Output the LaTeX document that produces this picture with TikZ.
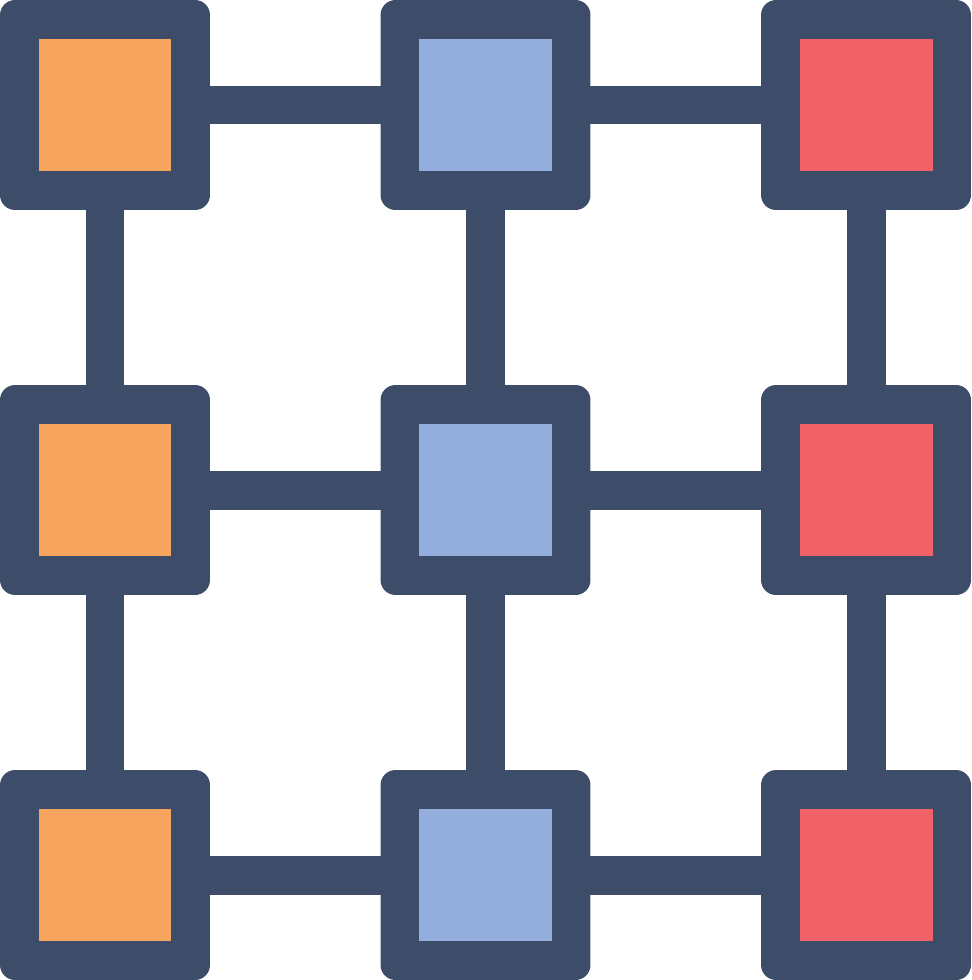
\documentclass[tikz,border=0pt]{standalone}
\usetikzlibrary{backgrounds}
\definecolor{gridnavy}{HTML}{3D4C68}
\definecolor{gridorange}{HTML}{F7A55E}
\definecolor{gridblue}{HTML}{93AEDC}
\definecolor{gridred}{HTML}{F06268}
\tikzset{
  cell/.style={rectangle, fill=gridnavy, rounded corners=0.3cm, minimum size=4.2cm, inner sep=0pt},
  core/.style={rectangle, minimum size=2.66cm, inner sep=0pt},
  bar/.style={line width=0.78cm, draw=gridnavy, line cap=butt}
}
\begin{document}
\begin{tikzpicture}[x=0.02cm,y=-0.02cm]
\useasboundingbox (0,0) rectangle (971,980);

% Marking cells of row 1
\node [cell] (c11) at (105,105) {};
\node [core, fill=gridorange] (c11in) at (c11) {};
\node [cell] (c12) at (485.5,105) {};
\node [core, fill=gridblue] (c12in) at (c12) {};
\node [cell] (c13) at (866,105) {};
\node [core, fill=gridred] (c13in) at (c13) {};

% Marking cells of row 2
\node [cell] (c21) at (105,490) {};
\node [core, fill=gridorange] (c21in) at (c21) {};
\node [cell] (c22) at (485.5,490) {};
\node [core, fill=gridblue] (c22in) at (c22) {};
\node [cell] (c23) at (866,490) {};
\node [core, fill=gridred] (c23in) at (c23) {};

% Marking cells of row 3
\node [cell] (c31) at (105,875) {};
\node [core, fill=gridorange] (c31in) at (c31) {};
\node [cell] (c32) at (485.5,875) {};
\node [core, fill=gridblue] (c32in) at (c32) {};
\node [cell] (c33) at (866,875) {};
\node [core, fill=gridred] (c33in) at (c33) {};

\begin{scope}[on background layer]
% Drawing horizontal bars
\draw [bar] (c11.center) -- (c12.center) -- (c13.center);
\draw [bar] (c21.center) -- (c22.center) -- (c23.center);
\draw [bar] (c31.center) -- (c32.center) -- (c33.center);

% Drawing vertical bars
\draw [bar] (c11.center) -- (c21.center) -- (c31.center);
\draw [bar] (c12.center) -- (c22.center) -- (c32.center);
\draw [bar] (c13.center) -- (c23.center) -- (c33.center);
\end{scope}
\end{tikzpicture}
\end{document}
